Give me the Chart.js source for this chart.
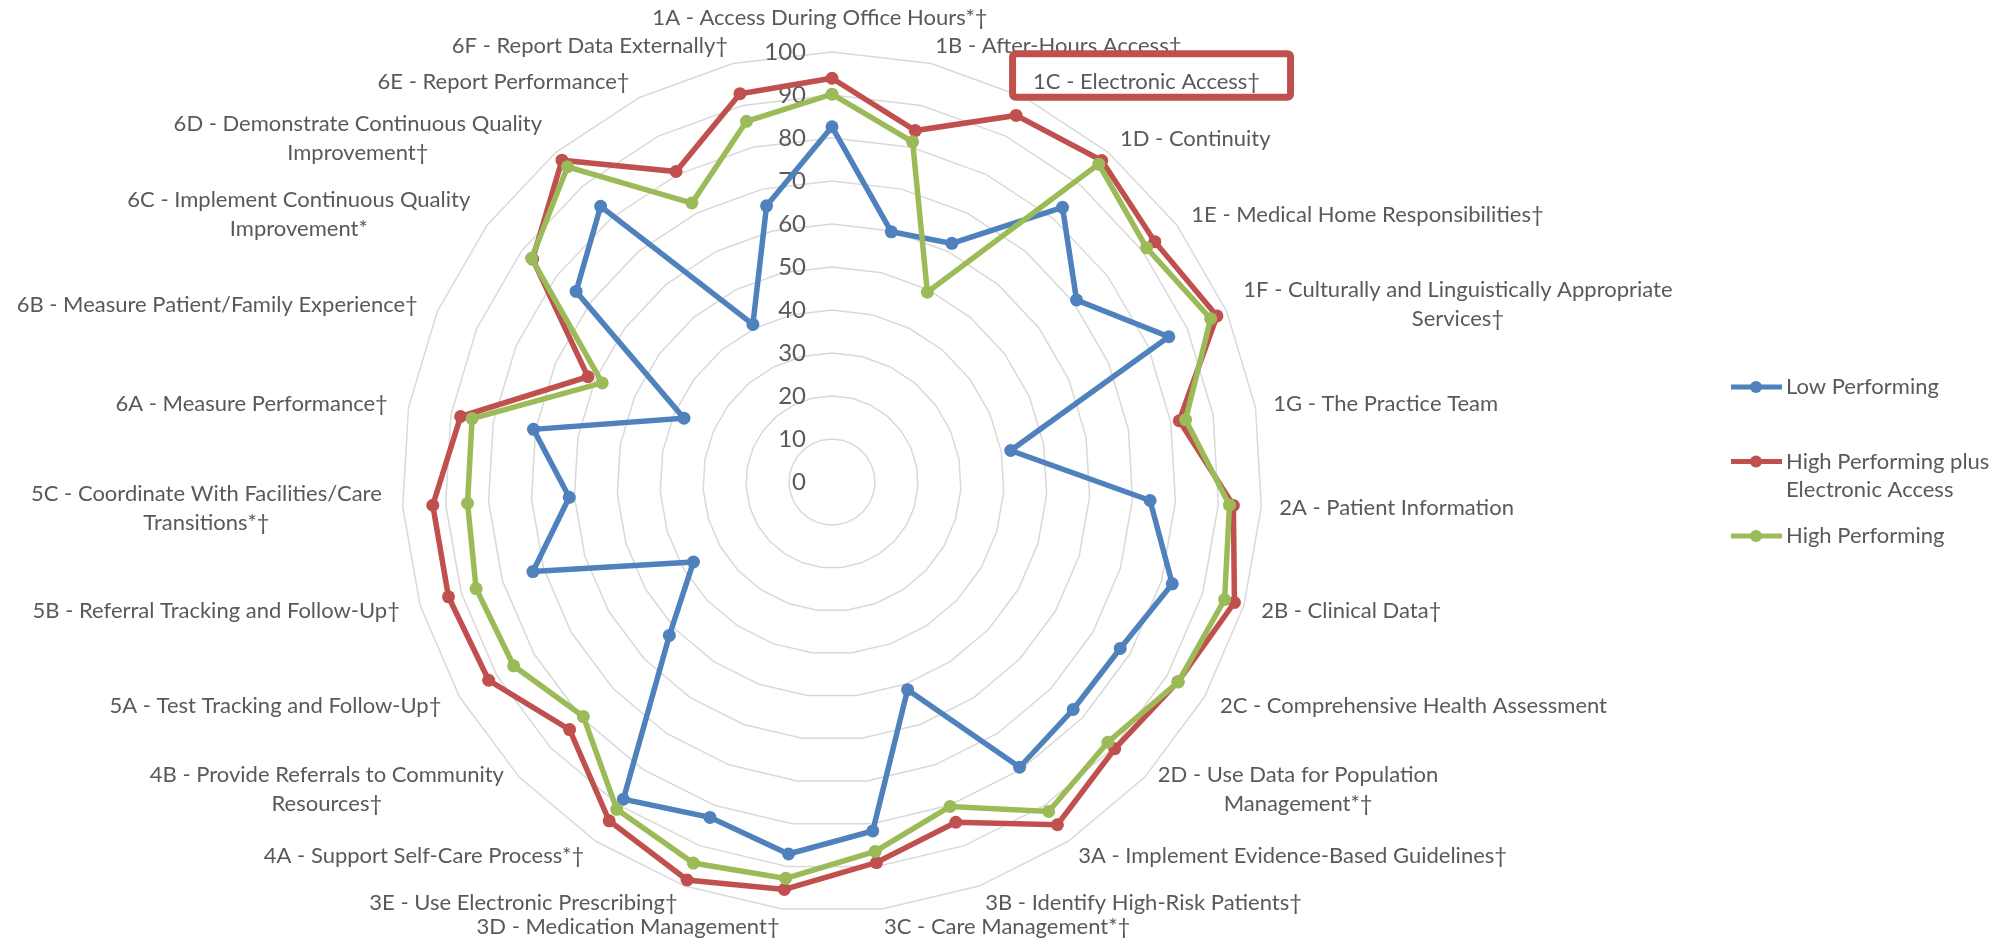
<!DOCTYPE html>
<html>
<head>
<meta charset="utf-8">
<title>PCMH Element Scores</title>
<script src="https://cdn.jsdelivr.net/npm/chart.js@4.4.1/dist/chart.umd.min.js"></script>
<style>
  html, body { margin: 0; padding: 0; background: #fff; }
  #wrap { width: 2010px; height: 941px; }
</style>
</head>
<body>
<div id="wrap"><canvas id="radarChart" width="2010" height="941"></canvas></div>
<script>
// categories, clockwise from the top
const categories = [
  '1A - Access During Office Hours*†',
  '1B - After-Hours Access†',
  '1C - Electronic Access†',
  '1D - Continuity',
  '1E - Medical Home Responsibilities†',
  ['1F - Culturally and Linguistically Appropriate', 'Services†'],
  '1G - The Practice Team',
  '2A - Patient Information',
  '2B - Clinical Data†',
  '2C - Comprehensive Health Assessment',
  ['2D - Use Data for Population', 'Management*†'],
  '3A - Implement Evidence-Based Guidelines†',
  '3B - Identify High-Risk Patients†',
  '3C - Care Management*†',
  '3D - Medication Management†',
  '3E - Use Electronic Prescribing†',
  '4A - Support Self-Care Process*†',
  ['4B - Provide Referrals to Community', 'Resources†'],
  '5A - Test Tracking and Follow-Up†',
  '5B - Referral Tracking and Follow-Up†',
  ['5C - Coordinate With Facilities/Care', 'Transitions*†'],
  '6A - Measure Performance†',
  '6B - Measure Patient/Family Experience†',
  ['6C - Implement Continuous Quality', 'Improvement*'],
  ['6D - Demonstrate Continuous Quality', 'Improvement†'],
  '6E - Report Performance†',
  '6F - Report Data Externally†'
];

const lowPerforming = [
  82.6, 59.8, 62.1, 83.4, 70.9, 85.3, 42.2,
  74.1, 82.6, 77.4, 77.1,
  79.4, 51.4, 81.7, 87.1, 83.0,
  88.3, 52.0,
  37.2, 72.6, 61.2,
  70.5, 37.5, 74.2, 83.7, 41.0, 66.0
];
const highPlusElectronic = [
  93.9, 84.0, 95.4, 97.6, 93.6, 97.5, 82.0,
  93.5, 97.7, 92.9, 90.4,
  95.4, 84.2, 89.1, 95.4, 98.5,
  94.3, 83.9,
  92.2, 93.1, 93.0,
  87.7, 61.8, 86.8, 97.7, 80.8, 92.8
];
const highPerforming = [
  90.2, 81.3, 49.4, 96.5, 91.2, 95.9, 83.5,
  92.6, 95.3, 93.0, 88.2,
  91.7, 80.3, 86.5, 92.8, 94.3,
  91.1, 79.5,
  85.5, 86.4, 84.9,
  85.0, 58.2, 87.1, 95.7, 72.6, 86.2
];

const seriesNames = ['Low Performing', ['High Performing plus', 'Electronic Access'], 'High Performing'];
const seriesColors = ['#4F81BD', '#C0504D', '#9BBB59'];
const tickValues = [0, 10, 20, 30, 40, 50, 60, 70, 80, 90, 100];
const highlightIndex = 2; // 1C gets the red frame

const TEXT = '#595959';
const FONT = 'Lato, "Open Sans", sans-serif';

// axis numbers, category names, the frame around 1C and the legend
const radarText = {
  id: 'radarText',
  beforeDatasetsDraw(chart) {
    const r = chart.scales.r, ctx = chart.ctx;
    ctx.save();
    ctx.font = '24px ' + FONT;
    ctx.fillStyle = TEXT;
    ctx.textAlign = 'right';
    ctx.textBaseline = 'middle';
    tickValues.forEach(v => {
      ctx.fillText(String(v), r.xCenter - 26, r.yCenter - r.getDistanceFromCenterForValue(v));
    });
    ctx.restore();
  },
  afterDraw(chart) {
    const r = chart.scales.r, ctx = chart.ctx;
    const lh = 29;
    ctx.save();
    ctx.font = '22px ' + FONT;
    ctx.fillStyle = TEXT;
    ctx.textBaseline = 'middle';

    categories.forEach((label, i) => {
      const lines = Array.isArray(label) ? label : [label];
      const ang = r.getIndexAngle(i);
      const s = Math.sin(ang), c = Math.cos(ang);
      const centred = Math.abs(s) < 0.1;
      // horizontal gap is a bit wider on the left-hand side
      const px = r.getPointPosition(i, r.drawingArea + (s < 0 ? 21 : 18));
      const py = r.getPointPosition(i, r.drawingArea + 12);
      const w = Math.max(...lines.map(t => ctx.measureText(t).width));
      let left;
      if (centred) left = px.x - w / 2 - 12;
      else if (s > 0) left = px.x;
      else left = px.x - w;
      const yc = py.y - 6 * c - (centred ? 16 : 0);

      lines.forEach((t, j) => {
        const y = yc + (j - (lines.length - 1) / 2) * lh;
        if (lines.length > 1) {
          ctx.textAlign = 'center';
          ctx.fillText(t, left + w / 2, y);
        } else {
          ctx.textAlign = 'left';
          ctx.fillText(t, left, y);
        }
      });

      if (i === highlightIndex) {
        ctx.save();
        ctx.strokeStyle = '#C0504D';
        ctx.lineWidth = 7;
        ctx.beginPath();
        ctx.roundRect(left - 20.5, yc - 28, 278, 43.5, 3);
        ctx.stroke();
        ctx.restore();
      }
    });

    // legend
    ctx.textAlign = 'left';
    ctx.font = '22px ' + FONT;
    seriesNames.forEach((name, k) => {
      const y = 387 + k * 74.5;
      ctx.strokeStyle = seriesColors[k];
      ctx.fillStyle = seriesColors[k];
      ctx.lineWidth = 5;
      ctx.beginPath();
      ctx.moveTo(1731, y);
      ctx.lineTo(1782, y);
      ctx.stroke();
      ctx.beginPath();
      ctx.arc(1756, y, 6, 0, Math.PI * 2);
      ctx.fill();
      ctx.fillStyle = TEXT;
      const lines = Array.isArray(name) ? name : [name];
      lines.forEach((t, j) => ctx.fillText(t, 1786, y + j * 28.5));
    });
    ctx.restore();
  }
};

const datasets = [lowPerforming, highPlusElectronic, highPerforming].map((data, k) => ({
  label: [].concat(seriesNames[k]).join(' '),
  data,
  borderColor: seriesColors[k],
  backgroundColor: seriesColors[k],
  pointBackgroundColor: seriesColors[k],
  pointBorderColor: seriesColors[k],
  borderWidth: 5.5,
  pointRadius: 6.5,
  pointBorderWidth: 0,
  fill: false,
  tension: 0,
  order: 3 - k // later series drawn on top
}));

new Chart(document.getElementById('radarChart').getContext('2d'), {
  type: 'radar',
  data: { labels: categories, datasets },
  options: {
    responsive: false,
    animation: false,
    plugins: { legend: { display: false }, tooltip: { enabled: false } },
    scales: {
      r: {
        min: 0,
        max: 100,
        startAngle: 0,
        ticks: { display: false, stepSize: 10 },
        grid: { circular: false, color: '#D9D9D9', lineWidth: 1.5 },
        angleLines: { display: false },
        pointLabels: { display: false },
        afterFit(scale) {
          scale.xCenter = 832;
          scale.yCenter = 482;
          scale.drawingArea = 430;
        }
      }
    }
  },
  plugins: [radarText]
});
</script>
</body>
</html>
